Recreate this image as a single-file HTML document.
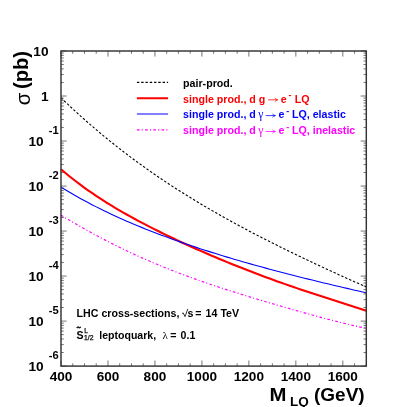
<!DOCTYPE html>
<html><head><meta charset="utf-8"><title>LQ cross-sections</title>
<style>
html,body{margin:0;padding:0;background:#fff;}
body{width:407px;height:407px;overflow:hidden;}
svg{display:block;will-change:transform;}
text{font-family:"Liberation Sans",sans-serif;font-weight:bold;fill:#000;}
.sym{font-family:"Liberation Sans",sans-serif;font-weight:normal;}
.ser{font-family:"Liberation Serif",serif;font-weight:normal;}
</style></head><body>
<svg width="407" height="407" viewBox="0 0 407 407">
<rect width="407" height="407" fill="#fff"/>
<path d="M61.00,366.1 v-5.6 M61.00,51.0 v5.6 M72.74,366.1 v-2.8 M72.74,51.0 v2.8 M84.48,366.1 v-2.8 M84.48,51.0 v2.8 M96.23,366.1 v-2.8 M96.23,51.0 v2.8 M107.97,366.1 v-5.6 M107.97,51.0 v5.6 M119.71,366.1 v-2.8 M119.71,51.0 v2.8 M131.45,366.1 v-2.8 M131.45,51.0 v2.8 M143.20,366.1 v-2.8 M143.20,51.0 v2.8 M154.94,366.1 v-5.6 M154.94,51.0 v5.6 M166.68,366.1 v-2.8 M166.68,51.0 v2.8 M178.42,366.1 v-2.8 M178.42,51.0 v2.8 M190.17,366.1 v-2.8 M190.17,51.0 v2.8 M201.91,366.1 v-5.6 M201.91,51.0 v5.6 M213.65,366.1 v-2.8 M213.65,51.0 v2.8 M225.39,366.1 v-2.8 M225.39,51.0 v2.8 M237.13,366.1 v-2.8 M237.13,51.0 v2.8 M248.88,366.1 v-5.6 M248.88,51.0 v5.6 M260.62,366.1 v-2.8 M260.62,51.0 v2.8 M272.36,366.1 v-2.8 M272.36,51.0 v2.8 M284.10,366.1 v-2.8 M284.10,51.0 v2.8 M295.85,366.1 v-5.6 M295.85,51.0 v5.6 M307.59,366.1 v-2.8 M307.59,51.0 v2.8 M319.33,366.1 v-2.8 M319.33,51.0 v2.8 M331.07,366.1 v-2.8 M331.07,51.0 v2.8 M342.82,366.1 v-5.6 M342.82,51.0 v5.6 M354.56,366.1 v-2.8 M354.56,51.0 v2.8 M366.30,366.1 v-2.8 M366.30,51.0 v2.8 M61.0,51.00 h5.6 M366.3,51.00 h-5.6 M61.0,96.01 h5.6 M366.3,96.01 h-5.6 M61.0,82.46 h2.8 M366.3,82.46 h-2.8 M61.0,74.54 h2.8 M366.3,74.54 h-2.8 M61.0,68.91 h2.8 M366.3,68.91 h-2.8 M61.0,64.55 h2.8 M366.3,64.55 h-2.8 M61.0,60.99 h2.8 M366.3,60.99 h-2.8 M61.0,57.97 h2.8 M366.3,57.97 h-2.8 M61.0,55.36 h2.8 M366.3,55.36 h-2.8 M61.0,53.06 h2.8 M366.3,53.06 h-2.8 M61.0,141.03 h5.6 M366.3,141.03 h-5.6 M61.0,127.48 h2.8 M366.3,127.48 h-2.8 M61.0,119.55 h2.8 M366.3,119.55 h-2.8 M61.0,113.93 h2.8 M366.3,113.93 h-2.8 M61.0,109.56 h2.8 M366.3,109.56 h-2.8 M61.0,106.00 h2.8 M366.3,106.00 h-2.8 M61.0,102.99 h2.8 M366.3,102.99 h-2.8 M61.0,100.38 h2.8 M366.3,100.38 h-2.8 M61.0,98.07 h2.8 M366.3,98.07 h-2.8 M61.0,186.04 h5.6 M366.3,186.04 h-5.6 M61.0,172.49 h2.8 M366.3,172.49 h-2.8 M61.0,164.57 h2.8 M366.3,164.57 h-2.8 M61.0,158.94 h2.8 M366.3,158.94 h-2.8 M61.0,154.58 h2.8 M366.3,154.58 h-2.8 M61.0,151.01 h2.8 M366.3,151.01 h-2.8 M61.0,148.00 h2.8 M366.3,148.00 h-2.8 M61.0,145.39 h2.8 M366.3,145.39 h-2.8 M61.0,143.09 h2.8 M366.3,143.09 h-2.8 M61.0,231.06 h5.6 M366.3,231.06 h-5.6 M61.0,217.51 h2.8 M366.3,217.51 h-2.8 M61.0,209.58 h2.8 M366.3,209.58 h-2.8 M61.0,203.96 h2.8 M366.3,203.96 h-2.8 M61.0,199.59 h2.8 M366.3,199.59 h-2.8 M61.0,196.03 h2.8 M366.3,196.03 h-2.8 M61.0,193.02 h2.8 M366.3,193.02 h-2.8 M61.0,190.41 h2.8 M366.3,190.41 h-2.8 M61.0,188.10 h2.8 M366.3,188.10 h-2.8 M61.0,276.07 h5.6 M366.3,276.07 h-5.6 M61.0,262.52 h2.8 M366.3,262.52 h-2.8 M61.0,254.59 h2.8 M366.3,254.59 h-2.8 M61.0,248.97 h2.8 M366.3,248.97 h-2.8 M61.0,244.61 h2.8 M366.3,244.61 h-2.8 M61.0,241.04 h2.8 M366.3,241.04 h-2.8 M61.0,238.03 h2.8 M366.3,238.03 h-2.8 M61.0,235.42 h2.8 M366.3,235.42 h-2.8 M61.0,233.12 h2.8 M366.3,233.12 h-2.8 M61.0,321.09 h5.6 M366.3,321.09 h-5.6 M61.0,307.54 h2.8 M366.3,307.54 h-2.8 M61.0,299.61 h2.8 M366.3,299.61 h-2.8 M61.0,293.98 h2.8 M366.3,293.98 h-2.8 M61.0,289.62 h2.8 M366.3,289.62 h-2.8 M61.0,286.06 h2.8 M366.3,286.06 h-2.8 M61.0,283.04 h2.8 M366.3,283.04 h-2.8 M61.0,280.43 h2.8 M366.3,280.43 h-2.8 M61.0,278.13 h2.8 M366.3,278.13 h-2.8 M61.0,366.10 h5.6 M366.3,366.10 h-5.6 M61.0,352.55 h2.8 M366.3,352.55 h-2.8 M61.0,344.62 h2.8 M366.3,344.62 h-2.8 M61.0,339.00 h2.8 M366.3,339.00 h-2.8 M61.0,334.64 h2.8 M366.3,334.64 h-2.8 M61.0,331.07 h2.8 M366.3,331.07 h-2.8 M61.0,328.06 h2.8 M366.3,328.06 h-2.8 M61.0,325.45 h2.8 M366.3,325.45 h-2.8 M61.0,323.15 h2.8 M366.3,323.15 h-2.8" stroke="#000" stroke-width="0.55" fill="none"/>
<path d="M61.00,97.80 L64.86,101.50 L68.73,105.15 L72.59,108.75 L76.46,112.30 L80.32,115.80 L84.19,119.26 L88.05,122.66 L91.92,126.01 L95.78,129.32 L99.65,132.58 L103.51,135.80 L107.37,138.97 L111.24,142.09 L115.10,145.18 L118.97,148.22 L122.83,151.22 L126.70,154.17 L130.56,157.09 L134.43,159.97 L138.29,162.80 L142.16,165.60 L146.02,168.37 L149.88,171.09 L153.75,173.78 L157.61,176.44 L161.48,179.06 L165.34,181.65 L169.21,184.20 L173.07,186.73 L176.94,189.22 L180.80,191.68 L184.67,194.11 L188.53,196.51 L192.39,198.89 L196.26,201.24 L200.12,203.56 L203.99,205.86 L207.85,208.13 L211.72,210.37 L215.58,212.59 L219.45,214.79 L223.31,216.97 L227.18,219.13 L231.04,221.26 L234.91,223.38 L238.77,225.47 L242.63,227.55 L246.50,229.61 L250.36,231.65 L254.23,233.67 L258.09,235.68 L261.96,237.67 L265.82,239.64 L269.69,241.61 L273.55,243.55 L277.42,245.48 L281.28,247.40 L285.14,249.31 L289.01,251.21 L292.87,253.09 L296.74,254.96 L300.60,256.82 L304.47,258.67 L308.33,260.51 L312.20,262.34 L316.06,264.16 L319.93,265.97 L323.79,267.77 L327.65,269.56 L331.52,271.35 L335.38,273.12 L339.25,274.89 L343.11,276.65 L346.98,278.40 L350.84,280.14 L354.71,281.88 L358.57,283.61 L362.44,285.33 L366.30,287.04" stroke="#000" stroke-width="1.1" stroke-dasharray="2.4,1.88" fill="none"/>
<path d="M61.00,215.20 L64.86,217.51 L68.73,219.80 L72.59,222.07 L76.46,224.31 L80.32,226.52 L84.19,228.71 L88.05,230.87 L91.92,233.00 L95.78,235.10 L99.65,237.17 L103.51,239.21 L107.37,241.23 L111.24,243.21 L115.10,245.15 L118.97,247.07 L122.83,248.96 L126.70,250.82 L130.56,252.64 L134.43,254.44 L138.29,256.20 L142.16,257.94 L146.02,259.64 L149.88,261.32 L153.75,262.97 L157.61,264.59 L161.48,266.18 L165.34,267.75 L169.21,269.29 L173.07,270.80 L176.94,272.29 L180.80,273.76 L184.67,275.21 L188.53,276.63 L192.39,278.03 L196.26,279.41 L200.12,280.77 L203.99,282.12 L207.85,283.44 L211.72,284.75 L215.58,286.05 L219.45,287.32 L223.31,288.59 L227.18,289.84 L231.04,291.07 L234.91,292.30 L238.77,293.51 L242.63,294.72 L246.50,295.91 L250.36,297.09 L254.23,298.27 L258.09,299.43 L261.96,300.59 L265.82,301.74 L269.69,302.89 L273.55,304.02 L277.42,305.15 L281.28,306.28 L285.14,307.39 L289.01,308.50 L292.87,309.61 L296.74,310.70 L300.60,311.79 L304.47,312.87 L308.33,313.94 L312.20,315.01 L316.06,316.06 L319.93,317.11 L323.79,318.14 L327.65,319.16 L331.52,320.16 L335.38,321.15 L339.25,322.13 L343.11,323.08 L346.98,324.02 L350.84,324.93 L354.71,325.82 L358.57,326.69 L362.44,327.53 L366.30,328.33" stroke="#ff00ff" stroke-width="1.15" stroke-dasharray="2.7,2.1,1.1,2.3" fill="none"/>
<path d="M61.00,169.22 L64.86,172.51 L68.73,175.70 L72.59,178.79 L76.46,181.79 L80.32,184.70 L84.19,187.53 L88.05,190.29 L91.92,192.97 L95.78,195.59 L99.65,198.14 L103.51,200.63 L107.37,203.07 L111.24,205.45 L115.10,207.78 L118.97,210.06 L122.83,212.30 L126.70,214.49 L130.56,216.65 L134.43,218.77 L138.29,220.85 L142.16,222.91 L146.02,224.92 L149.88,226.91 L153.75,228.88 L157.61,230.81 L161.48,232.72 L165.34,234.61 L169.21,236.47 L173.07,238.31 L176.94,240.13 L180.80,241.93 L184.67,243.71 L188.53,245.47 L192.39,247.21 L196.26,248.94 L200.12,250.64 L203.99,252.33 L207.85,254.01 L211.72,255.66 L215.58,257.30 L219.45,258.93 L223.31,260.53 L227.18,262.13 L231.04,263.70 L234.91,265.26 L238.77,266.81 L242.63,268.33 L246.50,269.85 L250.36,271.34 L254.23,272.82 L258.09,274.29 L261.96,275.74 L265.82,277.18 L269.69,278.60 L273.55,280.00 L277.42,281.39 L281.28,282.77 L285.14,284.13 L289.01,285.47 L292.87,286.81 L296.74,288.13 L300.60,289.44 L304.47,290.74 L308.33,292.02 L312.20,293.30 L316.06,294.57 L319.93,295.83 L323.79,297.08 L327.65,298.33 L331.52,299.57 L335.38,300.81 L339.25,302.05 L343.11,303.29 L346.98,304.53 L350.84,305.78 L354.71,307.04 L358.57,308.30 L362.44,309.58 L366.30,310.87" stroke="#ff0000" stroke-width="2.1" fill="none"/>
<path d="M61.00,187.15 L64.86,189.51 L68.73,191.82 L72.59,194.07 L76.46,196.28 L80.32,198.44 L84.19,200.55 L88.05,202.61 L91.92,204.64 L95.78,206.62 L99.65,208.56 L103.51,210.46 L107.37,212.33 L111.24,214.16 L115.10,215.95 L118.97,217.71 L122.83,219.44 L126.70,221.13 L130.56,222.80 L134.43,224.43 L138.29,226.04 L142.16,227.62 L146.02,229.18 L149.88,230.71 L153.75,232.21 L157.61,233.70 L161.48,235.15 L165.34,236.59 L169.21,238.01 L173.07,239.40 L176.94,240.78 L180.80,242.13 L184.67,243.47 L188.53,244.79 L192.39,246.09 L196.26,247.38 L200.12,248.65 L203.99,249.90 L207.85,251.14 L211.72,252.36 L215.58,253.57 L219.45,254.76 L223.31,255.94 L227.18,257.11 L231.04,258.27 L234.91,259.41 L238.77,260.54 L242.63,261.66 L246.50,262.76 L250.36,263.86 L254.23,264.94 L258.09,266.02 L261.96,267.08 L265.82,268.14 L269.69,269.18 L273.55,270.22 L277.42,271.24 L281.28,272.26 L285.14,273.26 L289.01,274.26 L292.87,275.25 L296.74,276.24 L300.60,277.21 L304.47,278.18 L308.33,279.14 L312.20,280.09 L316.06,281.03 L319.93,281.97 L323.79,282.91 L327.65,283.83 L331.52,284.75 L335.38,285.67 L339.25,286.58 L343.11,287.48 L346.98,288.39 L350.84,289.28 L354.71,290.17 L358.57,291.06 L362.44,291.95 L366.30,292.83" stroke="#0000ff" stroke-width="1.1" fill="none"/>
<rect x="61.0" y="51.0" width="305.3" height="315.1" fill="none" stroke="#333" stroke-width="1.45"/>
<text x="61.00" y="380.6" font-size="13.6" text-anchor="middle">400</text>
<text x="107.97" y="380.6" font-size="13.6" text-anchor="middle">600</text>
<text x="154.94" y="380.6" font-size="13.6" text-anchor="middle">800</text>
<text x="201.91" y="380.6" font-size="13.6" text-anchor="middle">1000</text>
<text x="248.88" y="380.6" font-size="13.6" text-anchor="middle">1200</text>
<text x="295.85" y="380.6" font-size="13.6" text-anchor="middle">1400</text>
<text x="342.82" y="380.6" font-size="13.6" text-anchor="middle">1600</text>
<text x="48.6" y="55.90" font-size="13.7" text-anchor="end">10</text>
<text x="48.6" y="100.91" font-size="13.7" text-anchor="end">1</text>
<text x="43.7" y="145.93" font-size="13.7" text-anchor="end">10</text>
<text x="48.7" y="133.63" font-size="11.2">-1</text>
<text x="43.7" y="190.94" font-size="13.7" text-anchor="end">10</text>
<text x="48.7" y="178.64" font-size="11.2">-2</text>
<text x="43.7" y="235.96" font-size="13.7" text-anchor="end">10</text>
<text x="48.7" y="223.66" font-size="11.2">-3</text>
<text x="43.7" y="280.97" font-size="13.7" text-anchor="end">10</text>
<text x="48.7" y="268.67" font-size="11.2">-4</text>
<text x="43.7" y="325.99" font-size="13.7" text-anchor="end">10</text>
<text x="48.7" y="313.69" font-size="11.2">-5</text>
<text x="43.7" y="371.00" font-size="13.7" text-anchor="end">10</text>
<text x="48.7" y="358.70" font-size="11.2">-6</text>
<text transform="translate(269.5,400.8) scale(1.07,1)" font-size="19">M</text>
<text x="289.9" y="406.0" font-size="13.5">LQ</text>
<text x="314.0" y="400.8" font-size="19">(GeV)</text>
<text transform="translate(28.2,105.2) rotate(-90)" font-size="20.2"><tspan class="sym" font-size="20.3" dy="2">σ</tspan><tspan dx="3.6" dy="-2">(pb)</tspan></text>
<path d="M136.9,82.4 H168.1" stroke="#000" stroke-width="1.1" stroke-dasharray="2.4,1.88" fill="none"/>
<path d="M136.9,98.2 H168.1" stroke="#ff0000" stroke-width="2.1" fill="none"/>
<path d="M136.9,114.0 H168.1" stroke="#0000ff" stroke-width="1.1" fill="none"/>
<path d="M136.9,129.9 H168.1" stroke="#ff00ff" stroke-width="1.15" stroke-dasharray="2.7,2.1,1.1,2.3" fill="none"/>
<text x="183.1" y="86.8" font-size="10.65">pair-prod.</text>
<text x="183.1" y="102.6" font-size="10.65" style="fill:#ff0000">single prod., d g</text><path d="M268.1,99.8 H277.59999999999997" stroke="#ff0000" stroke-width="0.75" fill="none"/><path d="M274.79999999999995,98.1 Q275.9,99.3 277.9,99.8 Q275.9,100.3 274.79999999999995,101.5" stroke="#ff0000" stroke-width="0.7" fill="none"/><text x="280.7" y="102.6" font-size="10.65" style="fill:#ff0000">e</text><text x="288.6" y="98.0" font-size="9" style="fill:#ff0000">-</text><text x="294.7" y="102.6" font-size="10.65" style="fill:#ff0000">LQ</text>
<text x="183.1" y="118.4" font-size="10.65" style="fill:#0000ff">single prod., d</text><text x="258.3" y="118.4" font-size="11.6" style="fill:#0000ff" class="ser">γ</text><path d="M265.7,115.6 H275.2" stroke="#0000ff" stroke-width="0.75" fill="none"/><path d="M272.4,113.89999999999999 Q273.5,115.1 275.5,115.6 Q273.5,116.1 272.4,117.3" stroke="#0000ff" stroke-width="0.7" fill="none"/><text x="278.4" y="118.4" font-size="10.65" style="fill:#0000ff">e</text><text x="286.2" y="113.8" font-size="9" style="fill:#0000ff">-</text><text x="292.0" y="118.4" font-size="10.65" style="fill:#0000ff">LQ, elastic</text>
<text x="183.1" y="134.3" font-size="10.65" style="fill:#ff00ff">single prod., d</text><text x="258.3" y="134.3" font-size="11.6" style="fill:#ff00ff" class="ser">γ</text><path d="M265.7,131.5 H275.2" stroke="#ff00ff" stroke-width="0.75" fill="none"/><path d="M272.4,129.8 Q273.5,131.0 275.5,131.5 Q273.5,132.0 272.4,133.2" stroke="#ff00ff" stroke-width="0.7" fill="none"/><text x="278.4" y="134.3" font-size="10.65" style="fill:#ff00ff">e</text><text x="286.2" y="129.7" font-size="9" style="fill:#ff00ff">-</text><text x="292.0" y="134.3" font-size="10.65" style="fill:#ff00ff">LQ, inelastic</text>
<text x="76.6" y="316.7" font-size="10.65">LHC cross-sections,</text>
<path d="M182.1,313.5 L183.2,312.9 L185.0,316.6 L187.8,308.9" stroke="#000" stroke-width="0.8" fill="none" stroke-linejoin="miter"/>
<text x="187.6" y="316.7" font-size="10.65">s</text>
<text x="195.3" y="316.7" font-size="10.65">=</text>
<text x="205.6" y="316.7" font-size="10.65">14 TeV</text>
<text x="76.4" y="338.7" font-size="10.55">S</text>
<text x="84.2" y="332.8" font-size="6.6" style="font-weight:normal;fill:#000;stroke:#000;stroke-width:0.25">L</text>
<text x="84.0" y="340.2" font-size="6.8" style="font-weight:normal;fill:#000;stroke:#000;stroke-width:0.25">1/2</text>
<path d="M76.8,328.1 Q77.7,326.3 78.7,327.4 T80.6,326.7" stroke="#000" stroke-width="1.25" fill="none"/>
<text x="99.3" y="338.7" font-size="10.55">leptoquark,</text>
<text x="162.5" y="338.7" font-size="11" class="ser">λ</text>
<text x="170.2" y="338.7" font-size="10.55">=</text>
<text x="180.6" y="338.7" font-size="10.55">0.1</text>
</svg></body></html>
